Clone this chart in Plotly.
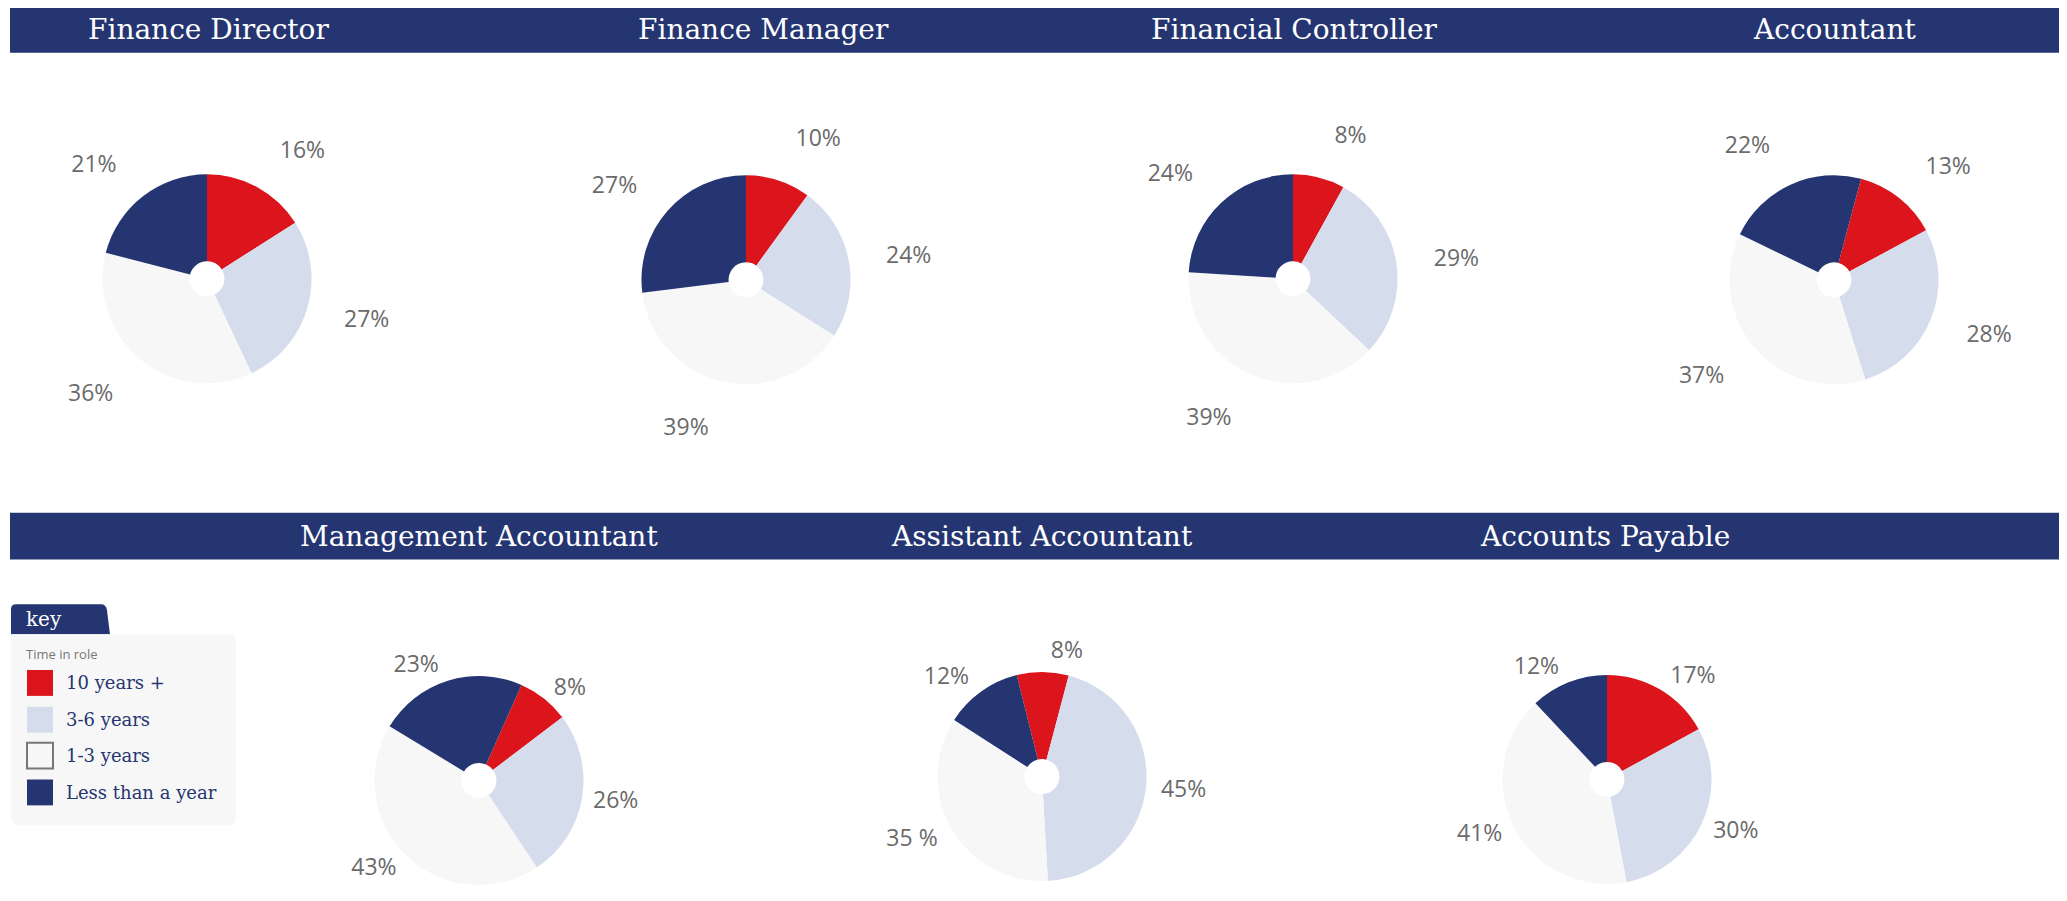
import plotly.graph_objects as go

# ---------------- data ----------------
roles = ["Finance Director", "Finance Manager", "Financial Controller", "Accountant",
         "Management Accountant", "Assistant Accountant", "Accounts Payable"]
categories = ["10 years +", "3-6 years", "1-3 years", "Less than a year"]

finance_director = [16, 27, 36, 21]
finance_manager = [10, 24, 39, 27]
financial_controller = [8, 29, 39, 24]
accountant = [13, 28, 37, 22]
management_accountant = [8, 26, 43, 23]
assistant_accountant = [8, 45, 35, 12]
accounts_payable = [17, 30, 41, 12]

label_texts = [
    ["16%", "27%", "36%", "21%"],
    ["10%", "24%", "39%", "27%"],
    ["8%", "29%", "39%", "24%"],
    ["13%", "28%", "37%", "22%"],
    ["8%", "26%", "43%", "23%"],
    ["8%", "45%", "35 %", "12%"],
    ["17%", "30%", "41%", "12%"],
]
key_title = "Time in role"

series = [finance_director, finance_manager, financial_controller, accountant,
          management_accountant, assistant_accountant, accounts_payable]

# ---------------- style ----------------
# page body has an 8px default margin: the figure is sized to fit inside it
OFF = 8
W, H = 2067 - 2 * OFF, 901 - 2 * OFF
NAVY = "#253571"
slice_colors = ["#DC141B", "#D5DCEC", "#F7F7F7", NAVY]
label_color = "#6b6b6b"
TITLE_FONT = "DejaVu Serif"
LABEL_FONT = "Open Sans"

# pie centres (page px), rotation per chart
centers = [(207, 280), (746, 281), (1293, 280), (1834, 281),
           (479, 784), (1042, 780), (1607, 783)]
rotations = [0, 0, 0, 15, 24, -14, 0]
title_centers_x = [208, 763, 1294, 1834, 479, 1042, 1605]
R = 105
HOLE = 0.167


def px(x):
    return (x - OFF) / W


def py(y):
    return 1 - (y - OFF) / H


fig = go.Figure()

for i, (vals, (cx, cy)) in enumerate(zip(series, centers)):
    fig.add_trace(go.Pie(
        labels=categories, values=vals, sort=False, direction="clockwise",
        rotation=rotations[i], hole=HOLE, textinfo="none",
        marker=dict(colors=slice_colors, line=dict(width=0)),
        domain=dict(x=[px(cx - R), px(cx + R)], y=[py(cy + R), py(cy - R)]),
        showlegend=False, name=roles[i],
    ))
    # transparent label ring, pushes the percentage labels further out
    fy = cy - OFF
    rl = min(135, H - fy - 1, fy - 1)
    fig.add_trace(go.Pie(
        labels=categories, values=vals, sort=False, direction="clockwise",
        rotation=rotations[i], text=label_texts[i], textinfo="text",
        textposition="outside",
        outsidetextfont=dict(family=LABEL_FONT, size=23, color=label_color),
        marker=dict(colors=["rgba(0,0,0,0)"] * 4, line=dict(width=0)),
        domain=dict(x=[px(cx - rl), px(cx + rl)], y=[py(cy + rl), py(cy - rl)]),
        showlegend=False, hoverinfo="skip", name=roles[i] + " labels",
    ))

shapes = []
annotations = []
for (y0, y1) in [(7, 53), (515, 562)]:
    shapes.append(dict(type="rect", xref="paper", yref="paper",
                       x0=px(10), x1=px(2059), y0=py(y1), y1=py(max(y0, OFF)),
                       fillcolor=NAVY, line=dict(width=0), layer="below"))
for i, role in enumerate(roles):
    ty = 30 if i < 4 else 539
    annotations.append(dict(text=role, x=px(title_centers_x[i]), y=py(ty),
                            xref="paper", yref="paper", showarrow=False,
                            xanchor="center", yanchor="middle",
                            font=dict(family=TITLE_FONT, size=28, color="white")))


def P(x, y):
    return f"{px(x):.5f},{py(y):.5f}"


tab_path = (f"M{P(11,637)} L{P(11,612)} Q{P(11,607)} {P(16,607)} L{P(101,607)} "
            f"Q{P(106,607)} {P(107,613)} L{P(110,637)} Z")
shapes.append(dict(type="path", xref="paper", yref="paper", path=tab_path,
                   fillcolor=NAVY, line=dict(width=0)))
box_path = (f"M{P(11,637)} L{P(228,637)} Q{P(236,637)} {P(236,645)} L{P(236,821)} "
            f"Q{P(236,829)} {P(228,829)} L{P(19,829)} Q{P(11,829)} {P(11,821)} Z")
shapes.append(dict(type="path", xref="paper", yref="paper", path=box_path,
                   fillcolor="#F7F7F7", line=dict(width=0)))
annotations.append(dict(text="key", x=px(24), y=py(622), xref="paper", yref="paper",
                        showarrow=False, xanchor="left", yanchor="middle",
                        font=dict(family=TITLE_FONT, size=20, color="white")))
annotations.append(dict(text=key_title, x=px(24), y=py(657), xref="paper", yref="paper",
                        showarrow=False, xanchor="left", yanchor="middle",
                        font=dict(family=LABEL_FONT, size=13, color="#777777")))
key_rows = [686, 723, 759, 796]
for j, cat in enumerate(categories):
    yc = key_rows[j]
    border = dict(width=2, color="#777777") if j == 2 else dict(width=0)
    shapes.append(dict(type="rect", xref="paper", yref="paper",
                       x0=px(27), x1=px(53), y0=py(yc + 13), y1=py(yc - 13),
                       fillcolor=slice_colors[j], line=border))
    annotations.append(dict(text=cat, x=px(64), y=py(yc), xref="paper", yref="paper",
                            showarrow=False, xanchor="left", yanchor="middle",
                            font=dict(family=TITLE_FONT, size=18, color=NAVY)))

fig.update_layout(width=W, height=H, margin=dict(l=0, r=0, t=0, b=0),
                  paper_bgcolor="white", plot_bgcolor="white",
                  shapes=shapes, annotations=annotations, showlegend=False)

fig.write_html("out.html")
